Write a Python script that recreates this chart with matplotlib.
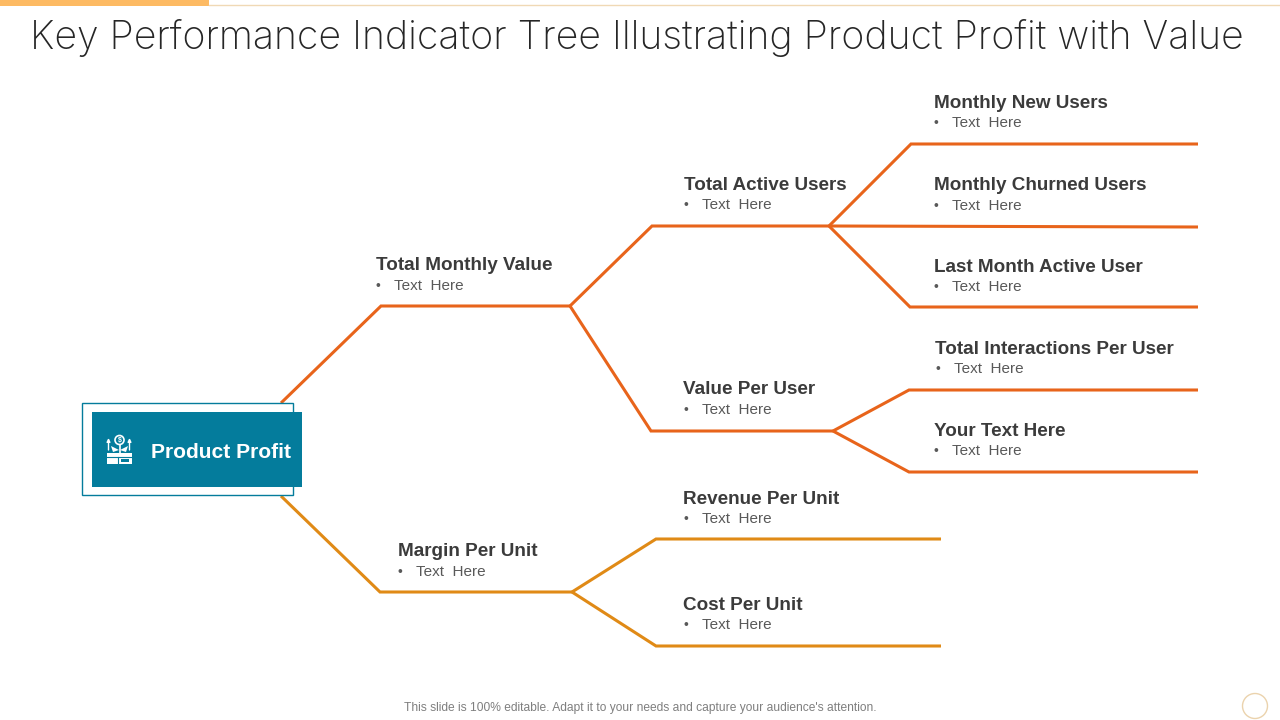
import matplotlib.pyplot as plt
from matplotlib.patches import Rectangle, Circle, Polygon

TITLE = "Key Performance Indicator Tree Illustrating Product Profit with Value"
FOOTER = "This slide is 100% editable. Adapt it to your needs and capture your audience's attention."
ROOT_LABEL = "Product Profit"
BULLET_TEXT = "Text  Here"

ORANGE = '#E8641B'
AMBER = '#E08A16'
TEAL = '#047C9C'

# node labels: heading, x, y of heading
node_names = ["Monthly New Users", "Monthly Churned Users", "Last Month Active User",
              "Total Interactions Per User", "Your Text Here", "Total Active Users",
              "Value Per User", "Total Monthly Value", "Margin Per Unit",
              "Revenue Per Unit", "Cost Per Unit"]
node_x = [934, 934, 934, 935, 934, 684, 683, 376, 398, 683, 683]
node_y = [103, 186, 267, 349, 431, 185, 390, 266, 552, 499, 605]

# branch polylines in pixels
orange_paths = [
    [(281, 403), (381, 306), (570, 306)],
    [(570, 306), (652, 226), (829, 226)],
    [(570, 306), (651, 431), (833, 431)],
    [(829, 226), (911, 144), (1198, 144)],
    [(829, 226), (1198, 227)],
    [(829, 226), (910, 307), (1198, 307)],
    [(833, 431), (909, 390), (1198, 390)],
    [(833, 431), (909, 472), (1198, 472)],
]
amber_paths = [
    [(281, 496), (380, 592), (572, 592)],
    [(572, 592), (656, 539), (941, 539)],
    [(572, 592), (656, 646), (941, 646)],
]


def px(size):
    # text size in pixels to points at dpi 100
    return size * 0.72


def draw_paths(ax, paths, color):
    for path in paths:
        xs = [p[0] for p in path]
        ys = [p[1] for p in path]
        ax.plot(xs, ys, color=color, lw=2.2, solid_joinstyle='miter',
                solid_capstyle='butt', zorder=2)


def draw_icon(ax):
    # small white box and plant icon
    ax.add_patch(Rectangle((107, 453), 25, 11, fc='white', ec='none', zorder=5))
    ax.plot([107, 132], [457, 457], color=TEAL, lw=0.8, zorder=6)
    ax.plot([118, 118], [457, 464], color=TEAL, lw=0.8, zorder=6)
    ax.add_patch(Rectangle((121, 459), 8, 2.5, fc=TEAL, ec='none', zorder=6))
    ax.add_patch(Circle((119.5, 440), 4.5, fc=TEAL, ec='white', lw=1.2, zorder=5))
    ax.text(119.5, 440.2, "$", color='white', fontsize=5, fontweight='bold',
            ha='center', va='center', zorder=6)
    ax.plot([119.5, 119.5], [445, 454], color='white', lw=1.2, zorder=5)
    ax.add_patch(Polygon([(119, 450), (111, 446), (113, 452)], fc='white', ec='none', zorder=5))
    ax.add_patch(Polygon([(120, 450), (128, 446), (126, 452)], fc='white', ec='none', zorder=5))
    for x in (108.5, 129.5):
        ax.annotate("", xy=(x, 438), xytext=(x, 450), zorder=5,
                    arrowprops=dict(arrowstyle='-|>', color='white', lw=1, mutation_scale=5,
                                    shrinkA=0, shrinkB=0))


fig = plt.figure(figsize=(12.8, 7.2), dpi=100)
ax = fig.add_axes([0, 0, 1, 1])
ax.set_xlim(0, 1280)
ax.set_ylim(720, 0)
ax.axis('off')

plt.rcParams['font.family'] = ['Liberation Sans', 'DejaVu Sans']

# top strip
ax.add_patch(Rectangle((0, 0), 209, 5.5, fc='#FDBA63', ec='none'))
ax.plot([209, 1280], [5, 5], color='#F0D9B5', lw=1)

ax.text(637, 38, TITLE, family='Inter', fontweight='light', fontsize=px(39.2), color='#262626',
        ha='center', va='center')

draw_paths(ax, orange_paths, ORANGE)
draw_paths(ax, amber_paths, AMBER)

# root box
ax.add_patch(Rectangle((82, 403), 210.5, 92, fc='white', ec=TEAL, lw=1, zorder=3))
ax.add_patch(Rectangle((92, 412), 210, 75, fc=TEAL, ec='none', zorder=4))
ax.text(151, 452, ROOT_LABEL, color='white', fontsize=px(21), fontweight='bold',
        ha='left', va='center', zorder=5)
draw_icon(ax)

for name, x, y in zip(node_names, node_x, node_y):
    ax.text(x, y, name, color='#3B3B3B', fontsize=px(18.9), fontweight='bold',
            ha='left', va='center')
    ax.text(x, y + 20, "•", color='#595959', fontsize=px(14), ha='left', va='center')
    ax.text(x + 18.5, y + 20, BULLET_TEXT, color='#595959', fontsize=px(15.2),
            ha='left', va='center')

ax.text(640, 708, FOOTER, color='#7F7F7F', fontsize=px(12), ha='center', va='center')

# page number ring
ax.add_patch(Circle((1255, 706), 12.5, fc='none', ec='#EBD3AD', lw=1))

fig.savefig('out.png', dpi=100)
plt.close(fig)
